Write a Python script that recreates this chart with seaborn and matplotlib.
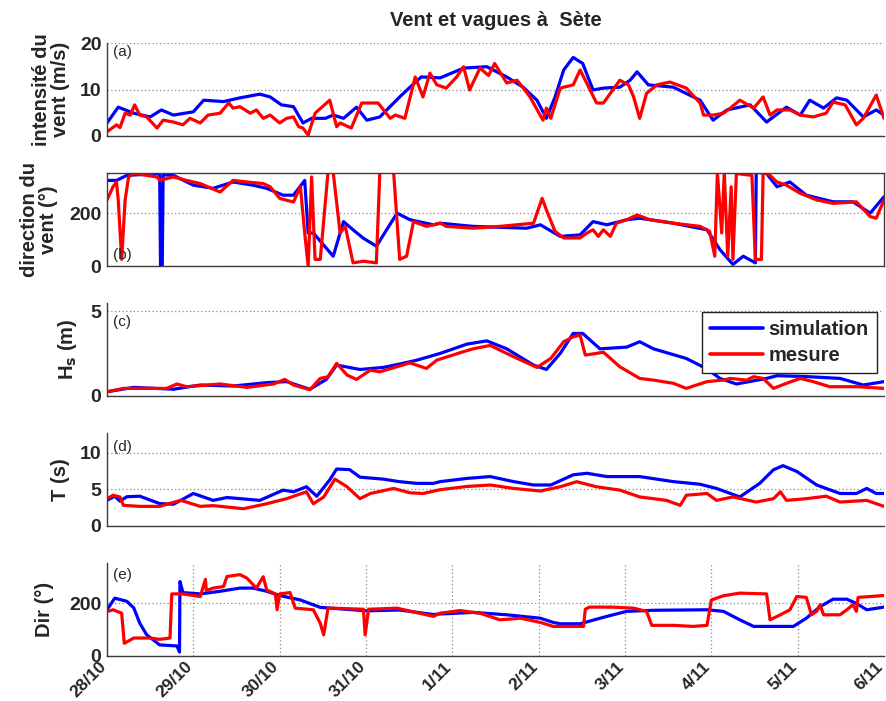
import matplotlib
matplotlib.use("Agg")
import matplotlib.pyplot as plt
import matplotlib.transforms as mtransforms
import seaborn as sns

# ---------------- data (time in days since 28/10 00h) ----------------
day_labels = ["28/10", "29/10", "30/10", "31/10", "1/11", "2/11", "3/11", "4/11", "5/11", "6/11"]
title = "Vent et vagues à  Sète"
series_names = ["simulation", "mesure"]

# (a) wind speed (m/s)
a_t_sim = [0, 0.13, 0.31, 0.50, 0.63, 0.77, 1.0, 1.12, 1.35, 1.54, 1.77, 1.89, 2.02, 2.16, 2.27, 2.37, 2.53, 2.62,
           2.74, 2.89, 3.01, 3.16, 3.39, 3.51, 3.64, 3.86, 4.13, 4.40, 4.63, 4.82, 4.98, 5.09, 5.19, 5.29, 5.40,
           5.51, 5.63, 5.75, 5.94, 6.06, 6.14, 6.27, 6.56, 6.87, 7.02, 7.18, 7.45, 7.64, 7.87, 8.03, 8.14, 8.30,
           8.45, 8.57, 8.76, 8.91, 9.0]
a_sim = [2.8, 6.2, 4.9, 4.1, 5.6, 4.5, 5.2, 7.7, 7.4, 8.2, 9.0, 8.4, 6.7, 6.3, 2.8, 3.8, 3.8, 4.5,
         3.8, 6.2, 3.4, 4.1, 8.4, 10.5, 12.7, 12.5, 14.6, 14.9, 12.7, 10.5, 7.7, 3.8, 8.4, 14.2, 16.9,
         15.6, 9.9, 10.3, 10.5, 12.0, 13.8, 11.0, 10.5, 7.7, 3.4, 5.6, 6.7, 3.0, 6.2, 4.5, 7.7, 6.0,
         8.2, 7.7, 4.1, 5.6, 4.5]
a_t_mes = [0, 0.11, 0.15, 0.21, 0.27, 0.32, 0.38, 0.46, 0.58, 0.65, 0.77, 0.88, 0.96, 1.08, 1.17, 1.31, 1.41,
           1.46, 1.54, 1.66, 1.73, 1.81, 1.89, 2.0, 2.08, 2.16, 2.22, 2.27, 2.33, 2.41, 2.58, 2.66, 2.70, 2.83,
           2.95, 3.14, 3.28, 3.34, 3.45, 3.57, 3.66, 3.74, 3.82, 3.93, 4.05, 4.13, 4.20, 4.32, 4.42, 4.49,
           4.63, 4.75, 4.90, 5.05, 5.09, 5.14, 5.25, 5.40, 5.48, 5.54, 5.67, 5.75, 5.94, 6.04, 6.10, 6.17,
           6.25, 6.37, 6.52, 6.71, 6.87, 6.91, 7.02, 7.14, 7.22, 7.33, 7.49, 7.60, 7.68, 7.76, 7.91, 8.03,
           8.18, 8.33, 8.41, 8.55, 8.68, 8.76, 8.91, 9.0]
a_mes = [0.9, 2.4, 1.8, 4.9, 4.5, 6.7, 4.5, 4.1, 1.7, 3.4, 3.0, 2.4, 3.8, 2.8, 4.5, 4.9, 7.1,
         6.0, 6.3, 4.9, 5.6, 3.8, 4.5, 2.8, 3.8, 4.1, 2.0, 1.7, 0.2, 4.9, 7.7, 2.0, 2.8, 1.7,
         7.1, 7.1, 3.8, 4.5, 3.8, 12.7, 8.4, 13.5, 11.0, 10.3, 12.7, 14.9, 9.9, 14.6, 13.0, 15.6,
         11.4, 12.0, 8.4, 3.4, 6.0, 3.8, 10.3, 11.0, 14.2, 12.0, 7.1, 7.1, 12.0, 11.0, 8.4, 3.8,
         9.2, 11.0, 11.6, 10.3, 7.1, 4.5, 4.5, 4.9, 6.0, 7.7, 6.0, 8.4, 4.5, 5.6, 5.6, 4.5,
         4.1, 4.9, 7.3, 6.7, 2.4, 3.8, 8.8, 3.8]

# (b) wind direction (deg)
b_t_sim = [0, 0.11, 0.23, 0.61, 0.62, 0.64, 0.65, 0.77, 1.0, 1.23, 1.46, 1.69, 1.85, 2.04, 2.16, 2.29, 2.33,
           2.39, 2.62, 2.74, 2.85, 2.97, 3.12, 3.36, 3.51, 3.78, 3.86, 4.24, 4.86, 5.02, 5.25, 5.48, 5.63,
           5.79, 6.02, 6.17, 6.56, 6.95, 7.10, 7.25, 7.37, 7.51, 7.52, 7.64, 7.76, 7.91, 8.10, 8.41, 8.64,
           8.84, 9.0]
b_sim = [324, 324, 343, 350, 0, 0, 345, 343, 306, 294, 318, 306, 294, 268, 268, 324, 125,
         125, 37, 168, 137, 105, 75, 200, 175, 156, 162, 150, 143, 156, 112, 118, 168,
         156, 175, 181, 162, 137, 62, 6, 37, 12, 355, 350, 300, 318, 268, 243, 243,
         200, 262]
b_t_mes = [0, 0.07, 0.11, 0.13, 0.17, 0.21, 0.25, 0.31, 0.46, 0.58, 0.61, 0.77, 0.92, 1.08, 1.31, 1.46, 1.62,
           1.81, 1.89, 2.0, 2.16, 2.24, 2.29, 2.33, 2.37, 2.41, 2.47, 2.56, 2.62, 2.70, 2.76, 2.85, 2.97,
           3.12, 3.16, 3.32, 3.39, 3.47, 3.55, 3.70, 3.86, 3.93, 4.24, 4.55, 4.94, 5.04, 5.09, 5.19, 5.29,
           5.48, 5.56, 5.63, 5.69, 5.75, 5.83, 5.90, 6.02, 6.14, 6.29, 6.56, 6.87, 6.98, 7.04, 7.07, 7.12,
           7.15, 7.19, 7.23, 7.25, 7.29, 7.47, 7.51, 7.58, 7.60, 7.68, 7.76, 7.87, 8.03, 8.22, 8.41, 8.68,
           8.84, 8.91, 9.0]
b_mes = [250, 300, 318, 250, 25, 250, 337, 350, 343, 337, 324, 337, 324, 312, 280, 324, 318,
         312, 300, 256, 242, 300, 125, 0, 337, 25, 25, 355, 355, 125, 150, 12, 18,
         12, 355, 355, 25, 37, 168, 150, 162, 150, 143, 150, 162, 256, 212, 131, 106,
         106, 125, 137, 112, 137, 112, 162, 175, 193, 175, 162, 150, 131, 37, 355, 125,
         355, 37, 300, 25, 350, 343, 25, 25, 355, 343, 318, 306, 275, 250, 237, 243,
         187, 181, 250]

# (c) significant wave height Hs (m)
c_t_sim = [0, 0.31, 0.77, 1.08, 1.46, 1.85, 2.08, 2.35, 2.54, 2.66, 2.93, 3.20, 3.39, 3.59, 3.86, 4.17, 4.40,
           4.63, 4.94, 5.09, 5.25, 5.40, 5.51, 5.71, 6.02, 6.17, 6.33, 6.71, 6.95, 7.10, 7.29, 7.64, 7.76,
           8.10, 8.49, 8.76, 9.0]
c_sim = [0.25, 0.51, 0.40, 0.65, 0.59, 0.79, 0.85, 0.40, 0.98, 1.83, 1.57, 1.69, 1.89, 2.12, 2.52, 3.07, 3.26,
         2.79, 1.83, 1.57, 2.52, 3.70, 3.70, 2.79, 2.89, 3.21, 2.79, 2.22, 1.60, 1.04, 0.71, 1.04, 1.20,
         1.15, 1.04, 0.65, 0.85]
c_t_mes = [0, 0.19, 0.69, 0.81, 0.92, 1.31, 1.62, 1.93, 2.06, 2.16, 2.35, 2.47, 2.56, 2.66, 2.78, 2.89, 3.05,
           3.16, 3.51, 3.70, 3.82, 4.09, 4.24, 4.44, 4.71, 4.98, 5.14, 5.29, 5.40, 5.48, 5.54, 5.67, 5.75,
           5.94, 6.17, 6.33, 6.56, 6.71, 6.95, 7.14, 7.22, 7.41, 7.49, 7.60, 7.72, 7.87, 8.03, 8.18, 8.37,
           8.68, 9.0]
c_mes = [0.25, 0.45, 0.45, 0.71, 0.55, 0.71, 0.51, 0.71, 0.98, 0.65, 0.37, 1.04, 1.14, 1.93, 1.24, 0.98, 1.53,
         1.43, 1.96, 1.63, 2.12, 2.56, 2.79, 2.99, 2.32, 1.69, 2.22, 3.21, 3.50, 3.60, 2.42, 2.52, 2.59,
         1.73, 1.04, 0.94, 0.75, 0.45, 0.85, 0.94, 1.04, 0.94, 1.14, 1.04, 0.45, 0.75, 1.04, 0.85, 0.55,
         0.55, 0.45]

# (d) wave period T (s)
d_t_sim = [0, 0.09, 0.15, 0.23, 0.38, 0.61, 0.77, 1.0, 1.23, 1.39, 1.77, 2.04, 2.16, 2.31, 2.43, 2.58, 2.66,
           2.81, 2.93, 3.20, 3.39, 3.59, 3.78, 3.86, 4.17, 4.44, 4.71, 4.94, 5.14, 5.40, 5.56, 5.79, 6.17,
           6.56, 6.87, 7.06, 7.33, 7.56, 7.72, 7.83, 7.99, 8.22, 8.49, 8.68, 8.80, 8.91, 9.0]
d_sim = [3.5, 4.07, 3.4, 4.0, 4.07, 3.06, 2.97, 4.44, 3.5, 3.89, 3.5, 4.9, 4.67, 5.36, 4.07, 6.3, 7.78,
         7.7, 6.67, 6.4, 6.05, 5.82, 5.82, 6.06, 6.5, 6.75, 6.06, 5.6, 5.6, 6.99, 7.2, 6.75, 6.75,
         6.06, 5.7, 5.13, 3.97, 5.82, 7.68, 8.24, 7.45, 5.6, 4.44, 4.44, 5.13, 4.44, 4.44]
d_t_mes = [0, 0.07, 0.15, 0.19, 0.38, 0.61, 0.85, 0.92, 1.08, 1.23, 1.58, 1.85, 2.08, 2.31, 2.39, 2.51, 2.64,
           2.78, 2.93, 3.05, 3.32, 3.51, 3.66, 3.86, 4.17, 4.44, 4.71, 5.02, 5.25, 5.44, 5.67, 5.94, 6.17,
           6.48, 6.64, 6.71, 6.95, 7.06, 7.25, 7.52, 7.72, 7.80, 7.87, 8.10, 8.33, 8.49, 8.80, 9.0]
d_mes = [3.73, 4.2, 3.96, 2.82, 2.68, 2.68, 3.5, 3.27, 2.68, 2.78, 2.36, 3.04, 3.73, 4.67, 3.04, 3.96, 6.4,
         5.36, 3.73, 4.44, 5.13, 4.53, 4.44, 4.96, 5.4, 5.6, 5.13, 4.78, 5.36, 6.05, 5.36, 4.9, 3.97,
         3.5, 2.82, 4.2, 4.44, 3.5, 3.97, 3.27, 3.73, 4.67, 3.5, 3.73, 4.07, 3.27, 3.5, 2.68]

# (e) wave direction (deg)
e_t_sim = [0, 0.09, 0.23, 0.31, 0.38, 0.46, 0.61, 0.81, 0.84, 0.845, 0.88, 1.08, 1.31, 1.54, 1.69, 1.85, 2.0,
           2.24, 2.47, 3.01, 3.39, 3.78, 3.86, 4.24, 4.63, 5.02, 5.17, 5.25, 5.48, 5.79, 6.02, 6.33, 6.95,
           7.14, 7.33, 7.49, 7.72, 7.95, 8.10, 8.26, 8.41, 8.57, 8.68, 8.80, 9.0]
e_sim = [175, 219, 207, 182, 124, 80, 42, 38, 15, 282, 240, 235, 245, 257, 257, 245, 229,
         212, 184, 171, 174, 157, 159, 165, 156, 143, 127, 122, 122, 150, 169, 173, 175,
         169, 137, 112, 112, 112, 143, 187, 215, 215, 199, 175, 185]
e_t_mes = [0, 0.07, 0.17, 0.20, 0.31, 0.50, 0.61, 0.73, 0.75, 0.88, 1.08, 1.14, 1.15, 1.23, 1.35, 1.39, 1.54,
           1.62, 1.73, 1.81, 1.85, 1.95, 1.97, 2.0, 2.12, 2.18, 2.39, 2.47, 2.51, 2.56, 2.62, 2.97, 2.99,
           3.03, 3.36, 3.78, 3.86, 4.09, 4.32, 4.55, 4.79, 5.02, 5.17, 5.33, 5.52, 5.54, 5.59, 5.86, 6.10,
           6.25, 6.31, 6.56, 6.79, 6.95, 7.00, 7.14, 7.33, 7.64, 7.68, 7.80, 7.91, 7.99, 8.10, 8.16, 8.22,
           8.26, 8.30, 8.49, 8.57, 8.64, 8.68, 8.70, 8.84, 9.0]
e_mes = [168, 175, 162, 48, 68, 68, 63, 68, 235, 235, 225, 290, 248, 257, 263, 301, 308,
         295, 257, 300, 250, 235, 175, 235, 240, 181, 175, 124, 80, 181, 181, 177, 80,
         177, 181, 150, 162, 172, 162, 137, 143, 127, 112, 112, 112, 177, 185, 185, 181,
         169, 116, 116, 112, 116, 212, 228, 238, 235, 137, 156, 175, 225, 222, 156, 169,
         194, 156, 156, 175, 194, 169, 222, 225, 229]

# ---------------- figure ----------------
sns.set_style("white")
plt.rcParams["font.family"] = ["Liberation Sans", "DejaVu Sans"]
plt.rcParams["font.weight"] = "bold"

W, H = 887, 701
fig = plt.figure(figsize=(W / 100, H / 100), dpi=100)

BLUE = "#0000ff"
RED = "#ff0000"
GRID = "#8a8a8a"
SPINE = "#3c3c3c"

left_px, right_px = 107, 884
panels = [
    dict(top=43, bot=136, tsim=a_t_sim, sim=a_sim, tmes=a_t_mes, mes=a_mes, ylim=20, yt=[0, 10, 20],
         ylabel="intensité du\nvent (m/s)", lx=-0.048, tag="(a)", tagy=0.90, box=False),
    dict(top=173, bot=266, tsim=b_t_sim, sim=b_sim, tmes=b_t_mes, mes=b_mes, ylim=352, yt=[0, 200],
         ylabel="direction du\nvent (°)", lx=-0.063, tag="(b)", tagy=0.12, box=True),
    dict(top=303, bot=396, tsim=c_t_sim, sim=c_sim, tmes=c_t_mes, mes=c_mes, ylim=5.5, yt=[0, 5],
         ylabel="H$_\\mathbf{s}$ (m)", lx=-0.036, tag="(c)", tagy=0.80, box=False),
    dict(top=433, bot=526, tsim=d_t_sim, sim=d_sim, tmes=d_t_mes, mes=d_mes, ylim=12.7, yt=[0, 5, 10],
         ylabel="T (s)", lx=-0.048, tag="(d)", tagy=0.85, box=False),
    dict(top=563, bot=656, tsim=e_t_sim, sim=e_sim, tmes=e_t_mes, mes=e_mes, ylim=352, yt=[0, 200],
         ylabel="Dir (°)", lx=-0.068, tag="(e)", tagy=0.87, box=False),
]

for i, p in enumerate(panels):
    ax = fig.add_axes([left_px / W, 1 - p["bot"] / H, (right_px - left_px) / W, (p["bot"] - p["top"]) / H])
    sns.lineplot(x=p["tsim"], y=p["sim"], ax=ax, color=BLUE, lw=2.3, estimator=None, sort=False,
                 label=series_names[0] if i == 2 else None, legend=False)
    sns.lineplot(x=p["tmes"], y=p["mes"], ax=ax, color=RED, lw=2.3, estimator=None, sort=False,
                 label=series_names[1] if i == 2 else None, legend=False)
    ax.set_xlim(0, 9)
    ax.set_ylim(0, p["ylim"])
    ax.set_yticks(p["yt"])
    ax.yaxis.grid(True, linestyle=(0, (1, 2)), color=GRID, lw=0.9)
    for s in ["left", "bottom", "top", "right"]:
        ax.spines[s].set_color(SPINE)
        ax.spines[s].set_linewidth(1.0)
    if not p["box"]:
        ax.spines["top"].set_visible(False)
        ax.spines["right"].set_visible(False)
    ax.tick_params(axis="y", direction="in", length=4, width=0.8, color=SPINE, labelsize=14, pad=4)
    ax.set_ylabel(p["ylabel"], fontsize=14.5, fontweight="bold", linespacing=1.0)
    ax.yaxis.set_label_coords(p["lx"], 0.5)
    ax.set_xlabel("")
    ax.text(0.008, p["tagy"], p["tag"], transform=ax.transAxes, fontsize=11, fontweight="normal",
            ha="left", va="center")
    if i < 4:
        ax.tick_params(axis="x", bottom=False, labelbottom=False)
    else:
        ax.set_xticks(range(len(day_labels)))
        ax.set_xticklabels(day_labels, rotation=45, ha="right", va="center", rotation_mode="anchor",
                           fontsize=12.5)
        ax.tick_params(axis="x", direction="in", length=4, width=0.8, color=SPINE, pad=6)
        ax.xaxis.grid(True, linestyle=(0, (1, 2)), color=GRID, lw=0.9)
        shift = mtransforms.ScaledTranslation(-3 / 100, 0, fig.dpi_scale_trans)
        for lbl in ax.get_xticklabels():
            lbl.set_transform(lbl.get_transform() + shift)
    if i == 2:
        leg = ax.legend(loc="upper right", bbox_to_anchor=(0.991, 0.903), borderaxespad=0,
                        prop={"size": 14.5, "weight": "bold"}, handlelength=2.6, handletextpad=0.3,
                        borderpad=0.4, labelspacing=0.35, fancybox=False, framealpha=1)
        leg.get_frame().set_edgecolor("#222222")
        leg.get_frame().set_linewidth(1.0)
        for ln in leg.get_lines():
            ln.set_linewidth(2.6)

fig.text(495.5 / W, 1 - 20 / H, title, ha="center", va="center", fontsize=14.5, fontweight="bold")

fig.savefig("out.png", dpi=100)
